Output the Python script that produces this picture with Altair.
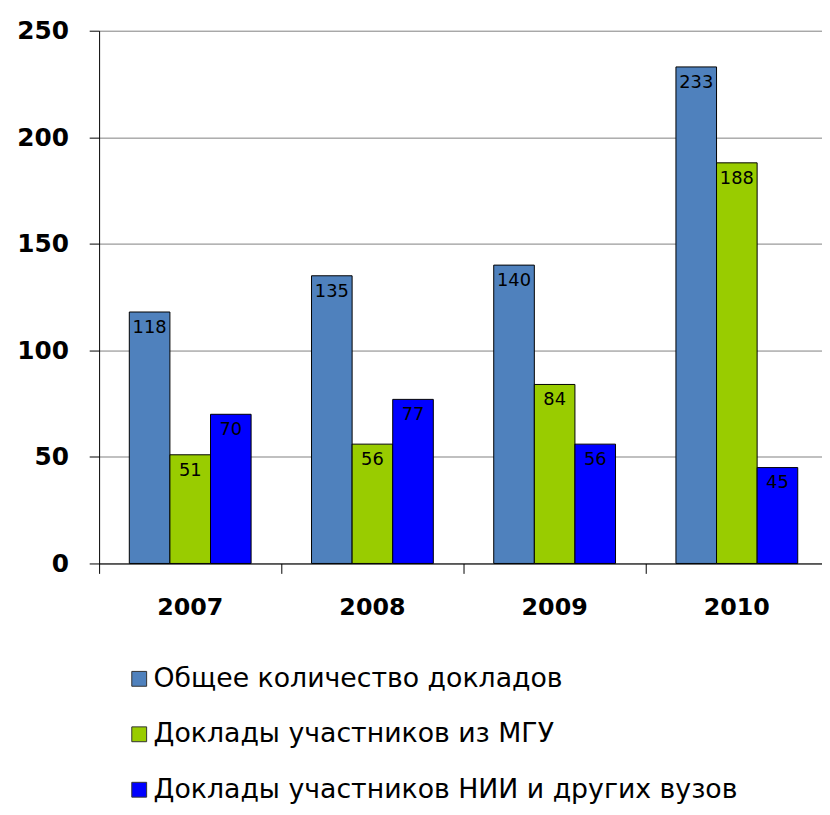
import altair as alt
import pandas as pd

years = ["2007", "2008", "2009", "2010"]
series = ["Общее количество докладов", "Доклады участников из МГУ", "Доклады участников НИИ и других вузов"]
total = [118, 135, 140, 233]
msu = [51, 56, 84, 188]
other = [70, 77, 56, 45]
colors = ["#4F81BD", "#99CC00", "#0000FF"]

rows = []
for i, y in enumerate(years):
    for s, vals in zip(series, [total, msu, other]):
        rows.append({"year": y, "series": s, "value": vals[i]})
df = pd.DataFrame(rows)

FONT = "DejaVu Sans"

x = alt.X("year:N", title=None, sort=years,
          scale=alt.Scale(paddingInner=0, paddingOuter=0),
          axis=alt.Axis(labelFontSize=24, labelFontWeight="bold", labelColor="black",
                        labelFont=FONT, labelAngle=0, tickSize=10, tickColor="#000000",
                        domainColor="#000000", labelPadding=23, bandPosition=0))
xo = alt.XOffset("series:N", sort=series, scale=alt.Scale(paddingOuter=0.744, paddingInner=0))
y = alt.Y("value:Q", title=None,
          scale=alt.Scale(domain=[0, 250]),
          axis=alt.Axis(values=[0, 50, 100, 150, 200, 250], labelFontSize=25, labelFontWeight="bold",
                        labelColor="black", labelFont=FONT, tickSize=10, tickColor="#000000",
                        domainColor="#000000", labelPadding=21, gridColor="#808080",
                        gridWidth=1))

bars = alt.Chart(df).mark_bar(stroke="black", strokeWidth=1).encode(
    x=x, xOffset=xo, y=y,
    color=alt.Color("series:N", sort=series,
                    scale=alt.Scale(domain=series, range=colors),
                    legend=alt.Legend(title=None, orient="none", legendX=27, legendY=641,
                                      direction="vertical", symbolType="square", symbolSize=225,
                                      symbolStrokeColor="#333333", symbolStrokeWidth=1,
                                      labelFontSize=27, labelFont=FONT, labelColor="black",
                                      rowPadding=28, labelOffset=1, labelLimit=800,
                                      symbolOpacity=1))
)

labels = alt.Chart(df).mark_text(baseline="top", dy=7, fontSize=18, font=FONT, color="black").encode(
    x=x, xOffset=xo, y=y, text="value:Q"
)

chart = alt.layer(bars, labels).properties(
    width=736, height=538,
    autosize=alt.AutoSizeParams(type="none"),
    padding={"left": 92, "top": 19, "right": -6, "bottom": 242},
).configure_view(stroke=None).configure_axis(domainWidth=1)

chart.save("out.html", embed_options={"renderer": "svg", "actions": False})
